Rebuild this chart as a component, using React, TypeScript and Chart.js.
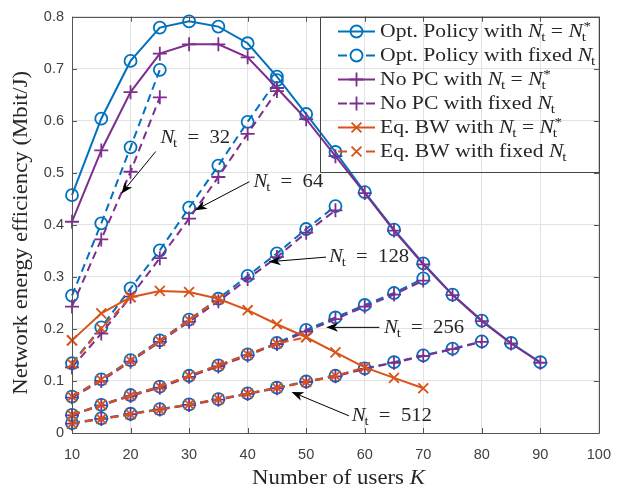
import React, { useEffect, useRef } from 'react';
import { Chart, registerables } from 'chart.js';

Chart.register(...registerables);

// ---------------- data ----------------
const K_STAR = [10, 15, 20, 25, 30, 35, 40, 45, 50, 55, 60, 65, 70, 75, 80, 85, 90];
const OPT_STAR = [0.457, 0.604, 0.715, 0.779, 0.791, 0.781, 0.749, 0.685, 0.613, 0.540, 0.463, 0.391, 0.326, 0.266, 0.216, 0.173, 0.136];
const NOPC_STAR = [0.406, 0.543, 0.655, 0.729, 0.747, 0.747, 0.722, 0.663, 0.603, 0.532, 0.461, 0.389, 0.324, 0.265, 0.215, 0.172, 0.135];
const K_EQ_STAR = [10, 15, 20, 25, 30, 35, 40, 45, 50, 55, 60, 65, 70];
const EQ_STAR = [0.178, 0.230, 0.261, 0.273, 0.271, 0.258, 0.236, 0.209, 0.184, 0.155, 0.126, 0.106, 0.086];

const K_32 = [10, 15, 20, 25];
const OPT_32 = [0.264, 0.403, 0.549, 0.698];
const NOPC_32 = [0.243, 0.372, 0.502, 0.645];

const K_64 = [10, 15, 20, 25, 30, 35, 40, 45];
const OPT_64 = [0.134, 0.203, 0.278, 0.351, 0.433, 0.514, 0.598, 0.678];
const NOPC_64 = [0.126, 0.191, 0.262, 0.336, 0.412, 0.492, 0.575, 0.657];

const K_128 = [10, 15, 20, 25, 30, 35, 40, 45, 50, 55];
const OPT_128 = [0.070, 0.103, 0.140, 0.178, 0.218, 0.258, 0.302, 0.345, 0.392, 0.436];
const NOPC_128 = [0.068, 0.100, 0.137, 0.175, 0.214, 0.253, 0.296, 0.338, 0.385, 0.428];

const K_256 = [10, 15, 20, 25, 30, 35, 40, 45, 50, 55, 60, 65, 70];
const OPT_256 = [0.035, 0.054, 0.073, 0.089, 0.110, 0.130, 0.151, 0.173, 0.198, 0.222, 0.246, 0.269, 0.297];
const NOPC_256 = [0.034, 0.053, 0.071, 0.087, 0.108, 0.128, 0.149, 0.171, 0.195, 0.219, 0.243, 0.266, 0.293];

const K_512 = [10, 15, 20, 25, 30, 35, 40, 45, 50, 55, 60, 65, 70, 75, 80];
const OPT_512 = [0.019, 0.028, 0.037, 0.046, 0.055, 0.065, 0.076, 0.087, 0.099, 0.110, 0.124, 0.136, 0.149, 0.162, 0.176];
const NOPC_512 = [0.018, 0.027, 0.036, 0.045, 0.054, 0.064, 0.075, 0.086, 0.098, 0.109, 0.123, 0.135, 0.148, 0.161, 0.175];

const K_EQ_32 = [10];
const EQ_32 = [0.178];
const K_EQ_64 = [10, 15, 20];
const EQ_64 = [0.133, 0.201, 0.261];
const K_EQ_128 = [10, 15, 20, 25, 30, 35];
const EQ_128 = [0.070, 0.102, 0.139, 0.177, 0.217, 0.257];
const K_EQ_256 = [10, 15, 20, 25, 30, 35, 40, 45, 50];
const EQ_256 = [0.035, 0.054, 0.072, 0.089, 0.110, 0.130, 0.151, 0.172, 0.184];
const K_EQ_512 = [10, 15, 20, 25, 30, 35, 40, 45, 50, 55, 60];
const EQ_512 = [0.018, 0.027, 0.036, 0.045, 0.055, 0.065, 0.076, 0.087, 0.098, 0.110, 0.126];

const X_MIN = 10, X_MAX = 100, X_STEP = 10;
const Y_MIN = 0, Y_MAX = 0.8, Y_STEP = 0.1;

const X_TITLE = 'Number of users ';
const X_TITLE_VAR = 'K';
const Y_TITLE = 'Network energy efficiency (Mbit/J)';

const LEGEND_LABELS = ['Opt. Policy with', 'Opt. Policy with fixed', 'No PC with', 'No PC with fixed', 'Eq. BW with', 'Eq. BW with fixed'];

// annotation: label, text anchor (left, middle), arrow start, arrow tip (data coords)
const ANNOT_LABELS = ['32', '64', '128', '256', '512'];
const ANNOT_TEXT = [[25.1, 0.568], [41.0, 0.485], [53.9, 0.340], [63.3, 0.203], [57.8, 0.035]];
const ANNOT_FROM = [[24.3, 0.541], [40.3, 0.483], [53.4, 0.338], [62.5, 0.203], [57.3, 0.033]];
const ANNOT_TIP = [[18.4, 0.460], [31.0, 0.428], [43.6, 0.329], [53.4, 0.203], [47.5, 0.079]];

// ---------------- styles ----------------
const BLUE = '#0072BD';
const PURPLE = '#7E2F8E';
const ORANGE = '#D95319';
const AXIS = '#555555';
const GRID = '#e2e2e2';
const TEXT = '#262626';
const SERIF = '"Liberation Serif", "DejaVu Serif", serif';
const DASH = [8, 5];

const pts = (ks: number[], vs: number[]) => ks.map((k, i) => ({ x: k, y: vs[i] }));

function mk(ks: number[], vs: number[], color: string, marker: string, dashed: boolean, order: number) {
  const r = marker === 'circle' ? 6 : 7;
  return {
    data: pts(ks, vs),
    showLine: true,
    borderColor: color,
    backgroundColor: 'transparent',
    borderWidth: 2,
    borderDash: dashed ? DASH : [],
    pointStyle: marker,
    pointRadius: r,
    pointHoverRadius: r,
    pointBorderColor: color,
    pointBackgroundColor: 'rgba(0,0,0,0)',
    pointBorderWidth: 1.8,
    tension: 0,
    fill: false,
    clip: false,
    order,
  };
}

type Tok = { t: string; it?: boolean; sub?: string; sup?: string };

// draws rich text with baseline at (x, y); stretch = horizontal scale
function drawRich(ctx: CanvasRenderingContext2D, toks: Tok[], x: number, y: number, size: number, stretch: number) {
  ctx.save();
  ctx.translate(x, y);
  ctx.scale(stretch, 1);
  let cx = 0;
  ctx.textBaseline = 'alphabetic';
  ctx.textAlign = 'left';
  for (const tok of toks) {
    ctx.font = `${tok.it ? 'italic ' : ''}${size}px ${SERIF}`;
    ctx.fillText(tok.t, cx, 0);
    cx += ctx.measureText(tok.t).width;
    if (tok.sub || tok.sup) {
      const s = size * 0.7;
      ctx.font = `${s}px ${SERIF}`;
      let w = 0;
      if (tok.sub) {
        ctx.fillText(tok.sub, cx - 1, size * 0.22);
        w = Math.max(w, ctx.measureText(tok.sub).width - 1);
      }
      if (tok.sup) {
        ctx.fillText(tok.sup, cx + 0.5, -size * 0.36);
        w = Math.max(w, ctx.measureText(tok.sup).width + 0.5);
      }
      cx += w;
    }
  }
  ctx.restore();
  return cx * stretch;
}

function measureRich(ctx: CanvasRenderingContext2D, toks: Tok[], size: number, stretch: number) {
  ctx.save();
  let cx = 0;
  for (const tok of toks) {
    ctx.font = `${tok.it ? 'italic ' : ''}${size}px ${SERIF}`;
    cx += ctx.measureText(tok.t).width;
  }
  ctx.restore();
  return cx * stretch;
}

function drawMarker(ctx: CanvasRenderingContext2D, style: string, x: number, y: number, color: string) {
  ctx.save();
  ctx.setLineDash([]);
  ctx.strokeStyle = color;
  ctx.lineWidth = 1.8;
  ctx.beginPath();
  if (style === 'circle') {
    ctx.arc(x, y, 6, 0, Math.PI * 2);
  } else if (style === 'cross') {
    ctx.moveTo(x - 7, y); ctx.lineTo(x + 7, y);
    ctx.moveTo(x, y - 7); ctx.lineTo(x, y + 7);
  } else {
    const d = 7 * Math.SQRT1_2;
    ctx.moveTo(x - d, y - d); ctx.lineTo(x + d, y + d);
    ctx.moveTo(x - d, y + d); ctx.lineTo(x + d, y - d);
  }
  ctx.stroke();
  ctx.restore();
}

function drawArrow(ctx: CanvasRenderingContext2D, fx: number, fy: number, tx: number, ty: number) {
  const ang = Math.atan2(ty - fy, tx - fx);
  const L = 12, W = 4.5, back = 8.5;
  ctx.save();
  ctx.strokeStyle = '#000';
  ctx.fillStyle = '#000';
  ctx.lineWidth = 1;
  ctx.setLineDash([]);
  ctx.beginPath();
  ctx.moveTo(fx, fy);
  ctx.lineTo(tx - Math.cos(ang) * back, ty - Math.sin(ang) * back);
  ctx.stroke();
  const c = Math.cos(ang), s = Math.sin(ang);
  ctx.beginPath();
  ctx.moveTo(tx, ty);
  ctx.lineTo(tx - c * L - s * W, ty - s * L + c * W);
  ctx.lineTo(tx - c * back, ty - s * back);
  ctx.lineTo(tx - c * L + s * W, ty - s * L - c * W);
  ctx.closePath();
  ctx.fill();
  ctx.restore();
}

const decorPlugin = {
  id: 'decor',
  afterDraw(chart: any) {
    const ctx: CanvasRenderingContext2D = chart.ctx;
    const { left, right, top, bottom } = chart.chartArea;
    const xs = chart.scales.x;
    const ys = chart.scales.y;

    ctx.save();
    // box + inner ticks
    ctx.strokeStyle = AXIS;
    ctx.lineWidth = 1;
    ctx.setLineDash([]);
    ctx.beginPath();
    ctx.rect(Math.round(left) + 0.5, Math.round(top) + 0.5, Math.round(right - left), Math.round(bottom - top));
    ctx.stroke();
    ctx.beginPath();
    const tl = 5;
    for (const t of xs.ticks) {
      const px = Math.round(xs.getPixelForValue(t.value)) + 0.5;
      ctx.moveTo(px, bottom); ctx.lineTo(px, bottom - tl);
      ctx.moveTo(px, top); ctx.lineTo(px, top + tl);
    }
    for (const t of ys.ticks) {
      const py = Math.round(ys.getPixelForValue(t.value)) + 0.5;
      ctx.moveTo(left, py); ctx.lineTo(left + tl, py);
      ctx.moveTo(right, py); ctx.lineTo(right - tl, py);
    }
    ctx.stroke();

    // axis titles
    ctx.fillStyle = TEXT;
    const TS = 20, TST = 1.14;
    const xt: Tok[] = [{ t: X_TITLE }, { t: X_TITLE_VAR, it: true }];
    const wx = measureRich(ctx, xt, TS, TST);
    drawRich(ctx, xt, (left + right) / 2 + 3 - wx / 2, 484, TS, TST);

    ctx.save();
    ctx.translate(27, (top + bottom) / 2 + 8);
    ctx.rotate(-Math.PI / 2);
    const yt: Tok[] = [{ t: Y_TITLE }];
    const wy = measureRich(ctx, yt, TS, TST);
    drawRich(ctx, yt, -wy / 2, 0, TS, TST);
    ctx.restore();

    // legend
    const lgL = 320, lgT = top, lgR = right, lgB = 172;
    ctx.strokeStyle = '#444';
    ctx.lineWidth = 1;
    ctx.beginPath();
    ctx.rect(lgL + 0.5, lgT + 0.5, lgR - lgL, lgB - lgT);
    ctx.stroke();
    const entries = [
      { c: BLUE, m: 'circle', d: false, star: true },
      { c: BLUE, m: 'circle', d: true, star: false },
      { c: PURPLE, m: 'cross', d: false, star: true },
      { c: PURPLE, m: 'cross', d: true, star: false },
      { c: ORANGE, m: 'crossRot', d: false, star: true },
      { c: ORANGE, m: 'crossRot', d: true, star: false },
    ];
    entries.forEach((e, i) => {
      const y = 31.5 + i * 24;
      ctx.save();
      ctx.strokeStyle = e.c;
      ctx.lineWidth = 2;
      ctx.beginPath();
      if (e.d) {
        ctx.moveTo(338, y); ctx.lineTo(347, y);
        ctx.moveTo(366, y); ctx.lineTo(375, y);
      } else {
        ctx.moveTo(338, y); ctx.lineTo(375, y);
      }
      ctx.stroke();
      ctx.restore();
      drawMarker(ctx, e.m, 356.5, y, e.c);
      ctx.fillStyle = TEXT;
      const toks: Tok[] = e.star
        ? [{ t: LEGEND_LABELS[i] + ' ' }, { t: 'N', it: true, sub: 't' }, { t: ' = ' }, { t: 'N', it: true, sub: 't', sup: '*' }]
        : [{ t: LEGEND_LABELS[i] + ' ' }, { t: 'N', it: true, sub: 't' }];
      drawRich(ctx, toks, 380, y + 5.5, 18.5, 1.17);
    });

    // annotations
    ANNOT_LABELS.forEach((lab, i) => {
      const fx = xs.getPixelForValue(ANNOT_FROM[i][0]);
      const fy = ys.getPixelForValue(ANNOT_FROM[i][1]);
      const tx = xs.getPixelForValue(ANNOT_TIP[i][0]);
      const ty = ys.getPixelForValue(ANNOT_TIP[i][1]);
      drawArrow(ctx, fx, fy, tx, ty);
      const px = xs.getPixelForValue(ANNOT_TEXT[i][0]);
      const py = ys.getPixelForValue(ANNOT_TEXT[i][1]);
      ctx.fillStyle = TEXT;
      drawRich(ctx, [{ t: 'N', it: true, sub: 't' }, { t: '\u2002=\u2002' + lab }], px, py + 6, 18, 1.15);
    });
    ctx.restore();
  },
};

export default function App() {
  const ref = useRef<HTMLCanvasElement | null>(null);
  useEffect(() => {
    document.body.style.margin = '0';
    const canvas = ref.current;
    if (!canvas) return;
    const datasets: any[] = [
      mk(K_STAR, OPT_STAR, BLUE, 'circle', false, 3),
      mk(K_32, OPT_32, BLUE, 'circle', true, 3),
      mk(K_64, OPT_64, BLUE, 'circle', true, 3),
      mk(K_128, OPT_128, BLUE, 'circle', true, 3),
      mk(K_256, OPT_256, BLUE, 'circle', true, 3),
      mk(K_512, OPT_512, BLUE, 'circle', true, 3),
      mk(K_STAR, NOPC_STAR, PURPLE, 'cross', false, 2),
      mk(K_32, NOPC_32, PURPLE, 'cross', true, 2),
      mk(K_64, NOPC_64, PURPLE, 'cross', true, 2),
      mk(K_128, NOPC_128, PURPLE, 'cross', true, 2),
      mk(K_256, NOPC_256, PURPLE, 'cross', true, 2),
      mk(K_512, NOPC_512, PURPLE, 'cross', true, 2),
      mk(K_EQ_STAR, EQ_STAR, ORANGE, 'crossRot', false, 1),
      mk(K_EQ_32, EQ_32, ORANGE, 'crossRot', true, 1),
      mk(K_EQ_64, EQ_64, ORANGE, 'crossRot', true, 1),
      mk(K_EQ_128, EQ_128, ORANGE, 'crossRot', true, 1),
      mk(K_EQ_256, EQ_256, ORANGE, 'crossRot', true, 1),
      mk(K_EQ_512, EQ_512, ORANGE, 'crossRot', true, 1),
    ];
    const chart = new Chart(canvas, {
      type: 'scatter',
      data: { datasets },
      options: {
        responsive: false,
        animation: false,
        events: [],
        layout: { padding: { top: 16, right: 17, left: 0, bottom: 0 } },
        plugins: { legend: { display: false }, tooltip: { enabled: false } },
        scales: {
          x: {
            type: 'linear',
            min: X_MIN,
            max: X_MAX,
            afterFit: (s: any) => { s.height = 56; },
            ticks: { stepSize: X_STEP, color: '#404040', font: { family: '"Liberation Sans", Arial, sans-serif', size: 14.5 }, padding: 13, maxRotation: 0 },
            grid: { color: GRID, lineWidth: 1, drawTicks: false },
            border: { display: false },
          },
          y: {
            type: 'linear',
            min: Y_MIN,
            max: Y_MAX,
            afterFit: (s: any) => { s.width = 72; },
            ticks: { stepSize: Y_STEP, color: '#404040', font: { family: '"Liberation Sans", Arial, sans-serif', size: 14.5 }, padding: 8 },
            grid: { color: GRID, lineWidth: 1, drawTicks: false },
            border: { display: false },
          },
        },
      },
      plugins: [decorPlugin],
    } as any);
    return () => chart.destroy();
  }, []);
  return (
    <div style={{ width: 624, height: 489 }}>
      <canvas ref={ref} width={624} height={489} style={{ display: 'block' }} />
    </div>
  );
}
